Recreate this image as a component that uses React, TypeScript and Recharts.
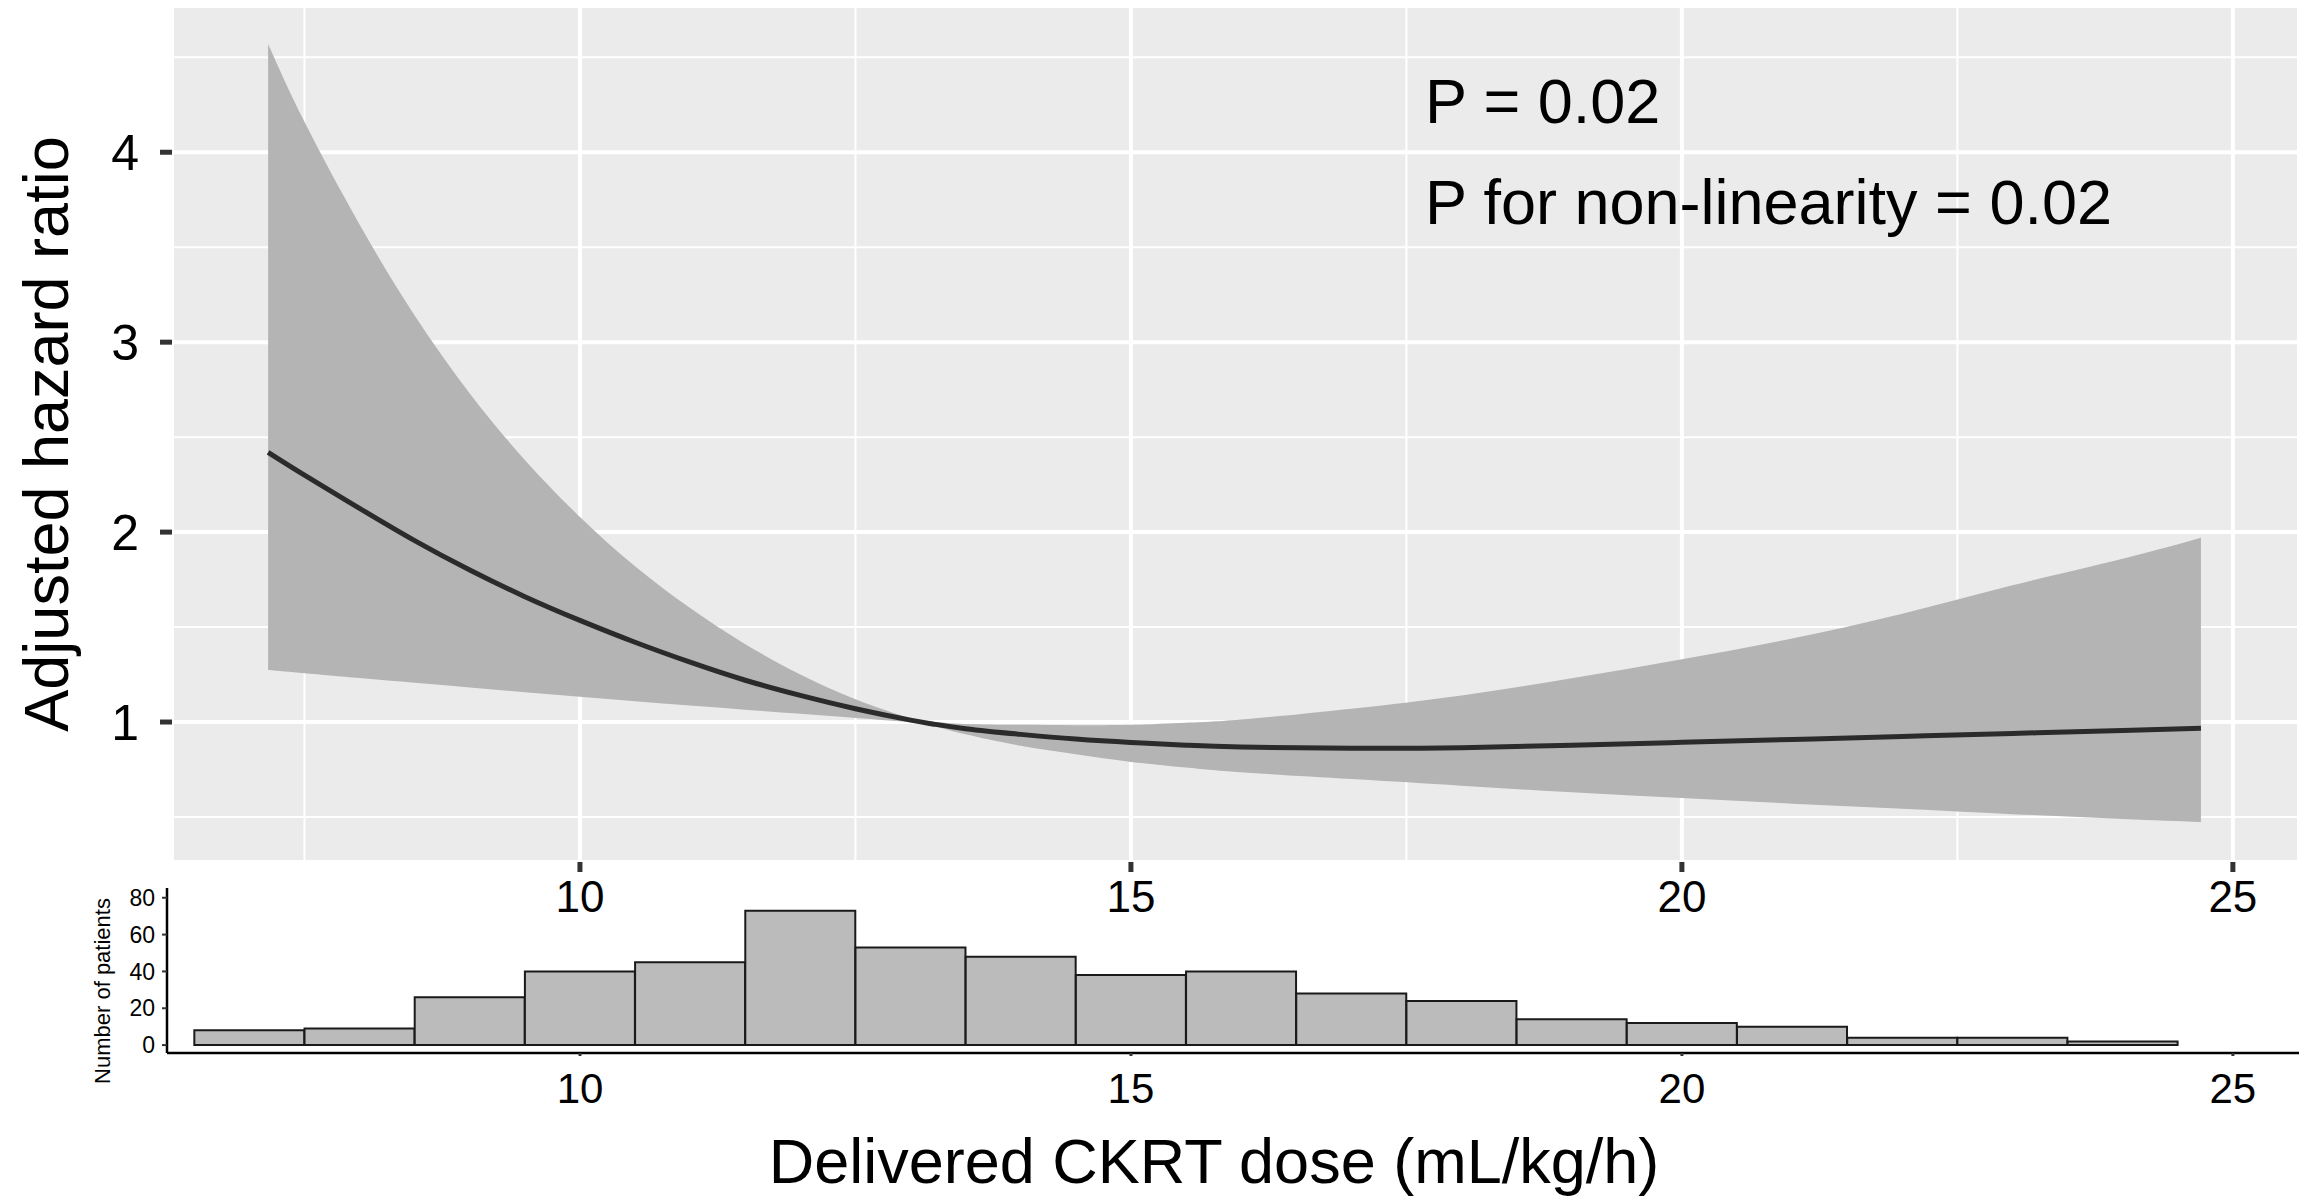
import {
  Area,
  Bar,
  CartesianGrid,
  ComposedChart,
  Line,
  XAxis,
  YAxis,
} from "recharts";

// spline fit: delivered dose vs adjusted HR
const doseGrid = [
  7.17, 7.5, 8, 8.5, 9, 9.5, 10, 10.5, 11, 11.5, 12, 12.5, 13, 13.2, 13.5, 14,
  14.5, 15, 15.5, 16, 17, 18, 19, 20, 21, 22, 23, 24, 24.71,
];
const hrEstimate = [
  2.42, 2.3, 2.125, 1.955, 1.8, 1.66, 1.535, 1.42, 1.315, 1.22, 1.14, 1.07,
  1.01, 0.99, 0.965, 0.935, 0.91, 0.892, 0.878, 0.868, 0.862, 0.865, 0.878,
  0.893, 0.908, 0.924, 0.94, 0.956, 0.967,
];
const hrUpper = [
  4.57, 4.16, 3.62, 3.14, 2.73, 2.38, 2.08, 1.82, 1.6, 1.41, 1.25, 1.12, 1.02,
  1.0, 0.99, 0.985, 0.983, 0.985, 0.996, 1.013, 1.07, 1.14, 1.23, 1.33, 1.44,
  1.57, 1.72, 1.86, 1.97,
];
const hrLower = [
  1.274, 1.257, 1.232, 1.207, 1.182, 1.157, 1.133, 1.11, 1.087, 1.065, 1.043,
  1.021, 1.0, 0.982, 0.935, 0.875, 0.83, 0.79, 0.76, 0.735, 0.7, 0.665, 0.63,
  0.6, 0.57, 0.543, 0.515, 0.49, 0.474,
];

// histogram of patients, 1 mL/kg/h bins
const binCenters = [
  7, 8, 9, 10, 11, 12, 13, 14, 15, 16, 17, 18, 19, 20, 21, 22, 23, 24,
];
const patientCounts = [
  8, 9, 26, 40, 45, 73, 53, 48, 38, 40, 28, 24, 14, 12, 10, 4, 4, 2,
];

const xTicks = [10, 15, 20, 25];
const xMinorTicks = [7.5, 12.5, 17.5, 22.5];
const hrTicks = [1, 2, 3, 4];
const hrMinorTicks = [0.5, 1.5, 2.5, 3.5, 4.5];
const countTicks = [0, 20, 40, 60, 80];

const FONT = "'Liberation Sans', Arial, Helvetica, sans-serif";

const curveData = doseGrid.map((x, i) => ({
  x,
  hr: hrEstimate[i],
  ci: [hrLower[i], hrUpper[i]],
}));

const histData = binCenters.map((x, i) => ({ x, n: patientCounts[i] }));

export default function App() {
  return (
    <div
      style={{
        position: "absolute",
        left: 0,
        top: 0,
        width: 2308,
        height: 1198,
        background: "#fff",
        fontFamily: FONT,
      }}
    >
      <div style={{ position: "absolute", left: 0, top: 0 }}>
        <ComposedChart
          width={2308}
          height={930}
          data={curveData}
          margin={{ top: 6, right: 9, left: 0, bottom: 0 }}
        >
          <XAxis
            xAxisId="minor"
            dataKey="x"
            type="number"
            domain={[6.298, 25.6]}
            ticks={xMinorTicks}
            allowDataOverflow
            tick={{ fill: "transparent", fontSize: 1 }}
            tickLine={false}
            axisLine={false}
            height={0}
            orientation="top"
          />
          <YAxis
            yAxisId="minor"
            type="number"
            domain={[0.263, 4.77]}
            ticks={hrMinorTicks}
            allowDataOverflow
            tick={{ fill: "transparent", fontSize: 1 }}
            tickLine={false}
            axisLine={false}
            width={0}
            orientation="right"
          />
          <CartesianGrid
            xAxisId="minor"
            yAxisId="minor"
            fill="#EBEBEB"
            stroke="#FFFFFF"
            strokeWidth={2}
          />
          <CartesianGrid stroke="#FFFFFF" strokeWidth={4} />
          <XAxis
            dataKey="x"
            type="number"
            domain={[6.298, 25.6]}
            ticks={xTicks}
            allowDataOverflow
            height={68}
            tickSize={10}
            tickMargin={9}
            tickLine={{ stroke: "#333", strokeWidth: 5 }}
            axisLine={false}
            tick={{ fill: "#000", fontSize: 44, fontFamily: FONT }}
          />
          <YAxis
            type="number"
            domain={[0.263, 4.77]}
            ticks={hrTicks}
            allowDataOverflow
            width={172}
            tickSize={12}
            tickMargin={21}
            tickLine={{ stroke: "#333", strokeWidth: 5 }}
            axisLine={false}
            tick={{ fill: "#000", fontSize: 50, fontFamily: FONT }}
          />
          <Area
            dataKey="ci"
            type="natural"
            fill="#B4B4B4"
            fillOpacity={1}
            stroke="none"
            isAnimationActive={false}
          />
          <Line
            dataKey="hr"
            type="natural"
            stroke="#2B2B2B"
            strokeWidth={5}
            dot={false}
            activeDot={false}
            isAnimationActive={false}
          />
        </ComposedChart>
      </div>

      <div style={{ position: "absolute", left: 0, top: 880 }}>
        <ComposedChart
          width={2308}
          height={250}
          data={histData}
          margin={{ top: 8, right: 9, left: 0, bottom: 0 }}
          barCategoryGap={0}
          barGap={0}
        >
          <XAxis
            dataKey="x"
            type="number"
            domain={[6.252, 25.6]}
            ticks={xTicks}
            allowDataOverflow
            height={77}
            tickSize={3}
            tickMargin={17}
            tickLine={{ stroke: "#333", strokeWidth: 3 }}
            axisLine={{ stroke: "#000", strokeWidth: 2.5 }}
            tick={{ fill: "#000", fontSize: 42, fontFamily: FONT }}
          />
          <YAxis
            type="number"
            domain={[-4.3, 85.3]}
            ticks={countTicks}
            allowDataOverflow
            width={167}
            tickSize={5}
            tickMargin={7}
            tickLine={{ stroke: "#333", strokeWidth: 2 }}
            axisLine={{ stroke: "#000", strokeWidth: 2.5 }}
            tick={{ fill: "#000", fontSize: 23, fontFamily: FONT }}
          />
          <Bar
            dataKey="n"
            fill="#BBBBBB"
            stroke="#1A1A1A"
            strokeWidth={2}
            isAnimationActive={false}
          />
        </ComposedChart>
      </div>

      <svg
        width={2308}
        height={1198}
        style={{ position: "absolute", left: 0, top: 0, pointerEvents: "none" }}
        fontFamily={FONT}
      >
        <text x={1425} y={123} fontSize={63} fill="#000">
          P = 0.02
        </text>
        <text x={1425} y={224} fontSize={63} fill="#000">
          P for non-linearity = 0.02
        </text>
        <text
          x={68}
          y={434}
          fontSize={63}
          fill="#000"
          textAnchor="middle"
          transform="rotate(-90 68 434)"
        >
          Adjusted hazard ratio
        </text>
        <text
          x={110}
          y={991}
          fontSize={22}
          fill="#000"
          textAnchor="middle"
          transform="rotate(-90 110 991)"
        >
          Number of patients
        </text>
        <text x={1214} y={1183} fontSize={63} fill="#000" textAnchor="middle">
          Delivered CKRT dose (mL/kg/h)
        </text>
      </svg>
    </div>
  );
}
